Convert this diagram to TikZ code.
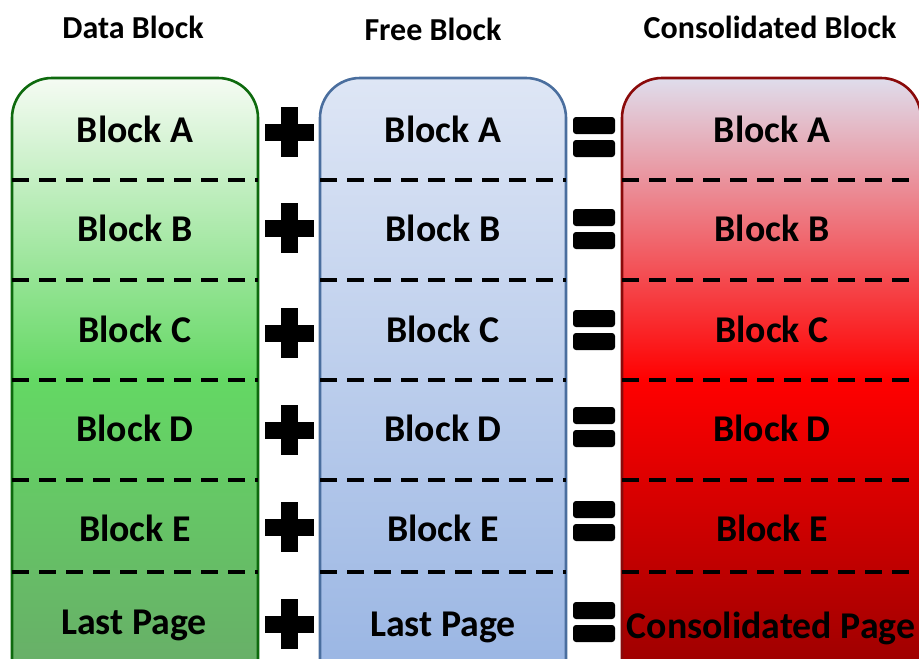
\documentclass[tikz,border=0pt]{standalone}
\usepackage{fontspec}
\setmainfont{Carlito}
\usetikzlibrary{calc}

% column colours
\definecolor{gtop}{HTML}{F5FBF3}
\definecolor{gmid}{HTML}{64D864}
\definecolor{gbot}{HTML}{68AD68}
\definecolor{gline}{HTML}{0E6A0E}
\definecolor{btop}{HTML}{DEE6F5}
\definecolor{bbot}{HTML}{99B5E3}
\definecolor{bline}{HTML}{4A6E9E}
\definecolor{rtop}{HTML}{DFDDEC}
\definecolor{rmid}{HTML}{FF0000}
\definecolor{rbot}{HTML}{990000}
\definecolor{rline}{HTML}{8A0A0A}

% column bodies run from y=78 down to y=680 (shading box 25bp..75bp)
\pgfdeclareverticalshading{greenshade}{100bp}{color(0bp)=(gbot); color(25bp)=(gbot); color(49.9bp)=(gmid); color(75bp)=(gtop); color(100bp)=(gtop)}
\pgfdeclareverticalshading{blueshade}{100bp}{color(0bp)=(bbot); color(25bp)=(bbot); color(75bp)=(btop); color(100bp)=(btop)}
\pgfdeclareverticalshading{redshade}{100bp}{color(0bp)=(rbot); color(25bp)=(rbot); color(49.9bp)=(rmid); color(75bp)=(rtop); color(100bp)=(rtop)}

\tikzset{
  column/.style={rounded corners=40pt, line width=2.6pt},
  divider/.style={line width=3.6pt, dash pattern=on 17pt off 10pt},
  header/.style={font=\fontsize{32}{38}\selectfont\bfseries, anchor=base},
  cell/.style={font=\fontsize{37.8}{44}\selectfont\bfseries, anchor=base, inner sep=0pt},
  pics/plussign/.style={code={
    \fill (-24.5,-8.5) rectangle (24.5,8.5);
    \fill (-8.5,-25) rectangle (8.5,25);
  }},
  pics/equalsign/.style={code={
    \fill[rounded corners=3pt] (-21,-20) rectangle (21,-3);
    \fill[rounded corners=3pt] (-21,3) rectangle (21,20);
  }},
}

\begin{document}
\begin{tikzpicture}[x=1pt, y=-1pt]
\useasboundingbox (0,0) rectangle (919,659);
\clip (0,0) rectangle (919,659);

% headers
\node[header] (h1) at (133,38) {Data Block};
\node[header] (h2) at (433,40) {Free Block};
\node[header] (h3) at (770,38) {Consolidated Block};

% column bodies
\path[column, shading=greenshade, draw=gline] (12,680) -- (12,78) -- (258,78) -- (258,680);
\path[column, shading=blueshade, draw=bline] (320,680) -- (320,78) -- (566,78) -- (566,680);
\path[column, shading=redshade, draw=rline] (622,680) -- (622,78) -- (921,78) -- (921,680);

% row dividers
\foreach \y in {180,280,380,480,572} {
  \draw[divider] (12,\y) -- (258,\y);
  \draw[divider] (320,\y) -- (566,\y);
  \draw[divider] (622,\y) -- (921,\y);
}

% cell labels
\foreach \lab/\y [count=\i] in {Block A/142, Block B/241, Block C/342, Block D/441, Block E/541} {
  \node[cell] (d\i) at (135,\y) {\lab};
  \node[cell] (f\i) at (443,\y) {\lab};
  \node[cell] (c\i) at (772,\y) {\lab};
}
\node[cell] (d6) at (134,634) {Last Page};
\node[cell] (f6) at (443,636) {Last Page};
\node[cell] (c6) at (771,638) {Consolidated Page};

% operators between the columns
\foreach \y [count=\i] in {132,228,333,430,527,624}
  \pic (plus\i) at (289,\y) {plussign};
\foreach \y [count=\i] in {137,229,330,427,521,622}
  \pic (eq\i) at (594,\y) {equalsign};
\end{tikzpicture}
\end{document}
